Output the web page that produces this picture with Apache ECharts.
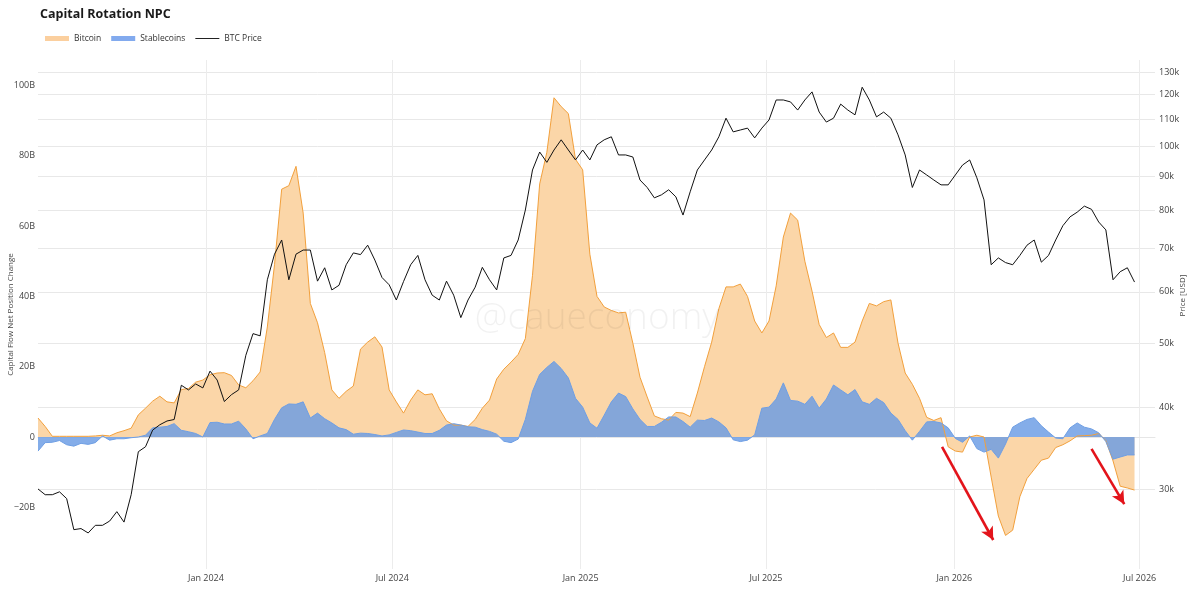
<!DOCTYPE html>
<html>
<head>
<meta charset="utf-8">
<title>Capital Rotation NPC</title>
<script src="https://cdn.jsdelivr.net/npm/echarts@6/dist/echarts.min.js"></script>
<style>
  html, body { margin: 0; padding: 0; background: #fff; }
  #chart { width: 1199px; height: 589px; }
</style>
</head>
<body>
<div id="chart"></div>
<script>
// weekly samples, first one on 2023-07-21
const startDate = [2023, 6, 21];
const stepDays = 7;

// Bitcoin capital flow NPC, billions USD
const btcFlow = [
  5.4, 3.0, 0.2, 0.2, 0.2, 0.2, 0.2, 0.2, 0.3, 0.5,
  0.3, 1.2, 1.8, 2.5, 6.3, 8.2, 10.2, 11.6, 10.0, 9.7,
  13.5, 13.8, 15.6, 16.2, 17.7, 18.2, 18.3, 17.5, 14.8, 14.0,
  16.0, 18.5, 31.3, 49.0, 70.5, 71.5, 77.0, 63.7, 38.0, 32.5,
  24.0, 13.4, 11.0, 13.0, 14.5, 25.0, 27.0, 28.5, 25.6, 13.4,
  10.0, 6.8, 10.5, 13.4, 12.0, 12.3, 8.0, 4.6, 3.4, 3.4,
  3.0, 5.0, 8.2, 10.5, 16.5, 19.3, 21.3, 23.5, 28.0, 46.0,
  72.0, 81.0, 96.5, 94.0, 92.0, 79.0, 76.0, 52.0, 40.0, 37.0,
  36.0, 35.3, 35.5, 26.7, 17.0, 11.4, 6.0, 5.2, 4.8, 7.0,
  6.8, 5.8, 12.5, 20.0, 27.0, 36.5, 42.7, 42.7, 43.5, 40.0,
  33.0, 29.6, 33.0, 43.0, 56.9, 63.7, 61.7, 50.0, 41.5, 32.0,
  28.3, 29.6, 25.5, 25.5, 27.0, 33.0, 38.0, 37.3, 38.5, 39.0,
  26.7, 18.2, 15.0, 11.0, 5.6, 4.7, 5.5, -2.8, -4.0, -4.3,
  0.0, 0.5, 0.0, -11.4, -22.5, -28.0, -26.5, -17.0, -11.8, -9.2,
  -6.6, -6.0, -3.0, -2.2, -1.1, 0.3, 0.4, 0.5, 1.0, -1.0,
  -6.8, -14.0, -14.5, -15.1
];

// Stablecoins capital flow NPC, billions USD
const stableFlow = [
  -4.0, -1.6, -1.5, -1.0, -2.2, -2.6, -1.8, -2.1, -1.6, 0.3,
  -0.9, -0.5, -0.5, -0.2, 0.0, 0.5, 2.6, 2.8, 3.0, 3.8,
  1.9, 1.5, 1.0, 0.0, 4.1, 4.2, 3.7, 3.7, 4.5, 2.3,
  -0.5, 0.3, 1.0, 5.0, 8.3, 9.4, 9.3, 10.0, 5.4, 6.8,
  5.2, 4.0, 2.6, 2.1, 0.8, 1.1, 1.0, 0.7, 0.3, 0.6,
  1.3, 2.0, 1.8, 1.4, 1.0, 1.0, 1.9, 3.4, 3.8, 3.4,
  2.9, 2.8, 2.1, 1.6, 0.8, -1.2, -1.6, -0.6, 5.0, 13.0,
  17.8, 19.8, 21.5, 19.5, 16.8, 11.0, 8.5, 4.0, 2.5, 6.2,
  10.0, 12.5, 11.5, 8.0, 5.0, 3.0, 3.0, 4.2, 5.7, 5.7,
  4.4, 2.8, 4.8, 4.7, 5.4, 4.3, 2.6, -0.8, -1.3, -0.9,
  0.6, 8.2, 8.5, 10.8, 15.4, 10.4, 10.2, 9.3, 11.6, 8.2,
  10.8, 14.8, 13.4, 12.0, 13.5, 10.0, 9.3, 11.0, 9.8, 6.8,
  5.0, 1.8, -0.9, 1.6, 4.3, 4.4, 4.0, 2.6, -0.4, -1.5,
  0.3, -3.3, -4.3, -3.5, -6.0, -2.0, 2.8, 4.0, 5.0, 5.5,
  3.2, 1.4, -0.3, -0.5, 2.6, 4.0, 2.8, 2.3, 1.2, -1.3,
  -6.3, -5.7, -5.1, -5.1
];

// BTC price, thousands USD
const btcPrice = [
  30.0, 29.4, 29.4, 29.7, 29.0, 26.0, 26.1, 25.7, 26.4, 26.4,
  26.8, 27.7, 26.7, 29.4, 34.2, 34.8, 36.9, 37.6, 38.1, 38.3,
  43.2, 42.5, 43.4, 42.8, 45.4, 44.0, 40.8, 41.8, 42.5, 48.0,
  51.8, 51.4, 62.6, 68.5, 72.0, 62.6, 68.5, 69.5, 69.5, 62.3,
  65.3, 60.4, 61.4, 66.0, 68.8, 68.4, 70.7, 67.1, 63.1, 61.5,
  58.3, 62.2, 66.0, 68.2, 62.6, 59.3, 58.3, 62.3, 59.3, 54.8,
  58.3, 61.0, 65.4, 62.6, 60.4, 67.6, 68.2, 72.0, 80.0, 92.1,
  98.1, 94.6, 98.8, 102.4, 98.8, 95.4, 98.8, 95.4, 100.6, 102.4,
  103.5, 97.1, 97.1, 96.4, 88.9, 86.6, 83.5, 84.4, 85.9, 83.8,
  78.6, 85.3, 92.1, 95.4, 98.8, 103.5, 110.5, 105.3, 106.0, 106.7,
  103.1, 106.7, 109.8, 117.8, 117.8, 117.0, 113.7, 117.8, 121.2, 112.9,
  109.0, 110.5, 116.1, 113.7, 111.8, 123.2, 117.8, 111.0, 112.9, 110.5,
  104.2, 97.1, 86.6, 92.1, 90.5, 88.9, 87.4, 87.4, 90.5, 93.7,
  95.4, 89.6, 82.9, 66.0, 67.6, 66.5, 66.0, 68.2, 70.7, 72.0,
  66.6, 68.2, 72.0, 75.7, 78.1, 79.4, 81.1, 80.2, 76.7, 74.6,
  62.6, 64.4, 65.3, 62.1
];

// axis ticks
const flowTicks = [-20, 0, 20, 40, 60, 80, 100];
const priceTicks = [30, 40, 50, 60, 70, 80, 90, 100, 110, 120, 130];
const dateTicks = ['2024-01', '2024-07', '2025-01', '2025-07', '2026-01', '2026-07'];
const monthNames = ['Jan', 'Feb', 'Mar', 'Apr', 'May', 'Jun', 'Jul', 'Aug', 'Sep', 'Oct', 'Nov', 'Dec'];

// red arrows: [start date, start value, end date, end value]
const arrowNotes = [
  ['2025-12-20', -2.8, '2026-02-08', -29.3],
  ['2026-05-15', -3.4, '2026-06-16', -19.1]
];

function toTime(s) {
  const p = s.split('-').map(Number);
  return Date.UTC(p[0], p[1] - 1, p[2] || 1);
}

const t0 = Date.UTC(startDate[0], startDate[1], startDate[2]);
const dates = btcFlow.map((_, i) => t0 + i * stepDays * 86400000);

const chart = echarts.init(document.getElementById('chart'));
const font = 'Open Sans';

chart.setOption({
  animation: false,
  backgroundColor: '#fff',
  textStyle: { fontFamily: font },
  title: {
    text: 'Capital Rotation NPC',
    left: 35,
    top: 3,
    textStyle: { fontSize: 12.5, fontWeight: 'bold', color: '#1a1a1a', fontFamily: font }
  },
  legend: {
    left: 40,
    top: 29,
    itemWidth: 24,
    itemHeight: 5,
    itemGap: 10,
    textStyle: { fontSize: 8.5, color: '#333' },
    data: [
      { name: 'Bitcoin', icon: 'rect', itemStyle: { color: '#fbcf9e', borderWidth: 0 } },
      { name: 'Stablecoins', icon: 'rect', itemStyle: { color: '#82aaee', borderWidth: 0 } },
      { name: 'BTC Price', icon: 'path://M0,0H24V1H0Z', itemStyle: { color: '#222', borderWidth: 0 } }
    ]
  },
  grid: { left: 38, right: 44, top: 60, bottom: 20, outerBoundsMode: 'none' },
  xAxis: {
    type: 'value',
    min: toTime('2023-07-21'),
    max: toTime('2026-07-16'),
    axisLine: { show: true, lineStyle: { color: '#e6e6e6' } },
    axisTick: { show: false, customValues: dateTicks.map(toTime) },
    splitLine: { show: true, lineStyle: { color: '#ececec' } },
    axisLabel: {
      customValues: dateTicks.map(toTime),
      margin: 5,
      fontSize: 9,
      color: '#444',
      formatter: function (v) {
        const d = new Date(v);
        return monthNames[d.getUTCMonth()] + ' ' + d.getUTCFullYear();
      }
    }
  },
  yAxis: [
    {
      type: 'value',
      min: -37.55,
      max: 107.25,
      name: 'Capital Flow Net Position Change',
      nameLocation: 'middle',
      nameGap: 23,
      nameMoveOverlap: false,
      nameTextStyle: { fontSize: 8, color: '#444' },
      axisLine: { show: false },
      axisTick: { show: false },
      splitLine: { show: false },
      axisLabel: {
        customValues: flowTicks,
        margin: 3,
        fontSize: 9,
        color: '#444',
        formatter: function (v) {
          if (v === 0) return '0';
          return (v < 0 ? '\u2212' + (-v) : v) + 'B';
        }
      }
    },
    {
      type: 'value',
      position: 'right',
      min: 4.3549,
      max: 5.1322,
      name: 'Price [USD]',
      nameLocation: 'middle',
      nameGap: 24,
      nameMoveOverlap: false,
      nameTextStyle: { fontSize: 8, color: '#444', padding: [0, 0, 0, 38] },
      axisLine: { show: false },
      axisTick: { show: false, customValues: priceTicks.map(v => Math.log10(v * 1000)) },
      splitLine: { show: true, lineStyle: { color: '#e8e8e8' } },
      axisLabel: {
        customValues: priceTicks.map(v => Math.log10(v * 1000)),
        margin: 4,
        fontSize: 9,
        color: '#444',
        formatter: function (v) {
          return Math.round(Math.pow(10, v) / 1000) + 'k';
        }
      }
    }
  ],
  graphic: [{
    type: 'text',
    x: 597,
    y: 318,
    silent: true,
    z: 100,
    style: {
      text: '@caueconomy',
      align: 'center',
      verticalAlign: 'middle',
      font: '300 37px "Open Sans"',
      fill: 'rgba(0,0,0,0.055)'
    }
  }],
  series: [
    {
      name: 'Bitcoin',
      type: 'line',
      yAxisIndex: 0,
      symbol: 'none',
      data: dates.map((d, i) => [d, btcFlow[i]]),
      lineStyle: { color: '#f2a03c', width: 1 },
      itemStyle: { color: '#fbcf9e' },
      areaStyle: { color: '#fbd6a8', opacity: 1 }
    },
    {
      name: 'Stablecoins',
      type: 'line',
      yAxisIndex: 0,
      symbol: 'none',
      data: dates.map((d, i) => [d, stableFlow[i]]),
      lineStyle: { color: '#6f9fe4', width: 1 },
      itemStyle: { color: '#82aaee' },
      areaStyle: { color: 'rgb(105,155,228)', opacity: 0.82 },
      markLine: {
        silent: true,
        symbol: ['none', 'arrow'],
        symbolSize: [10, 13],
        label: { show: false },
        lineStyle: { color: '#e3141b', width: 2.6, type: 'solid' },
        emphasis: { disabled: true },
        data: arrowNotes.map(a => [
          { coord: [toTime(a[0]), a[1]] },
          { coord: [toTime(a[2]), a[3]] }
        ])
      }
    },
    {
      name: 'BTC Price',
      type: 'line',
      yAxisIndex: 1,
      symbol: 'none',
      data: dates.map((d, i) => [d, Math.log10(btcPrice[i] * 1000)]),
      lineStyle: { color: '#111', width: 1 },
      itemStyle: { color: '#111' },
      z: 5
    }
  ]
});
</script>
</body>
</html>
